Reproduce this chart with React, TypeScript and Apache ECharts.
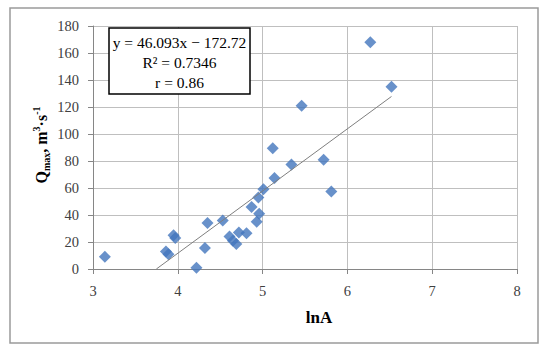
import React, { useEffect, useRef } from 'react';
import * as echarts from 'echarts';

// Data
const lnA = [3.14, 3.86, 3.89, 3.95, 3.97, 4.22, 4.32, 4.35, 4.53, 4.61, 4.65, 4.69, 4.72, 4.81, 4.87, 4.93, 4.96, 4.95, 5.01, 5.14, 5.12, 5.34, 5.46, 5.72, 5.81, 6.27, 6.52];
const qMax = [9, 13, 11, 25, 23, 1, 15.5, 34, 36, 24, 21, 18.5, 27, 26.5, 46, 35, 41, 53, 59, 67.5, 89.5, 77.5, 121, 81, 57.5, 168, 135];

// Linear trend line y = 46.093x − 172.72 (drawn from y = 0 to last point)
const slope = 46.093;
const intercept = -172.72;
const trendX = [3.747, 6.52];
const trendY = trendX.map((x) => slope * x + intercept);

const equationLines = ['y = 46.093x − 172.72', 'R² = 0.7346', 'r = 0.86'];
const xTitle = 'lnA';

const SERIF = 'Liberation Serif';

export default function App() {
  const ref = useRef<HTMLDivElement>(null);

  useEffect(() => {
    if (!ref.current) return;
    const chart = echarts.init(ref.current, null, { renderer: 'svg' });
    const labelStyle = { fontFamily: SERIF, fontSize: 14.5, color: '#404040' };
    chart.setOption({
      animation: false,
      backgroundColor: '#ffffff',
      textStyle: { fontFamily: SERIF },
      grid: { left: 93, right: 33, top: 26, bottom: 86, containLabel: false },
      xAxis: {
        type: 'value',
        min: 3,
        max: 8,
        interval: 1,
        axisLine: { show: true, lineStyle: { color: '#868686', width: 1 } },
        axisTick: { show: true, length: 5, lineStyle: { color: '#868686' } },
        axisLabel: { ...labelStyle, margin: 14 },
        splitLine: { show: true, lineStyle: { color: '#bfbfbf', width: 1 } },
      },
      yAxis: {
        type: 'value',
        min: 0,
        max: 180,
        interval: 20,
        axisLine: { show: true, lineStyle: { color: '#868686', width: 1 } },
        axisTick: { show: true, length: 5, lineStyle: { color: '#868686' } },
        axisLabel: { ...labelStyle, margin: 14 },
        splitLine: { show: true, lineStyle: { color: '#bfbfbf', width: 1 } },
      },
      series: [
        {
          type: 'scatter',
          symbol: 'diamond',
          symbolSize: 12,
          itemStyle: { color: '#4275bd' },
          data: lnA.map((x, i) => [x, qMax[i]]),
          z: 2,
        },
        {
          type: 'line',
          symbol: 'none',
          lineStyle: { color: '#7f7f7f', width: 1 },
          data: trendX.map((x, i) => [x, trendY[i]]),
          z: 3,
        },
      ],
      graphic: [
        {
          type: 'rect',
          shape: { x: 10, y: 8, width: 528, height: 335 },
          style: { fill: 'none', stroke: '#9a9a9a', lineWidth: 1.5 },
          z: 10,
        },
        {
          type: 'rect',
          shape: { x: 109, y: 28, width: 141, height: 66 },
          style: { fill: '#ffffff', stroke: '#000000', lineWidth: 1.5 },
          z: 10,
        },
        ...equationLines.map((t, i) => ({
          type: 'text',
          x: 179.5,
          y: 42 + i * 20,
          style: {
            text: t,
            fontFamily: SERIF,
            fontSize: 15.5,
            fill: '#000000',
            textAlign: 'center',
            textVerticalAlign: 'middle',
          },
          z: 11,
        })),
        {
          type: 'text',
          x: 319,
          y: 317,
          style: {
            text: xTitle,
            fontFamily: SERIF,
            fontSize: 17,
            fontWeight: 'bold',
            fill: '#000000',
            textAlign: 'center',
            textVerticalAlign: 'middle',
          },
          z: 11,
        },
        {
          type: 'text',
          x: 41,
          y: 145,
          rotation: Math.PI / 2,
          style: {
            text: '{b|Q}{sub|max}{b|, m}{sup|3}{b|·s}{sup|-1}',
            textAlign: 'center',
            textVerticalAlign: 'middle',
            rich: {
              b: { fontFamily: SERIF, fontSize: 16, fontWeight: 'bold', fill: '#000', lineHeight: 20, verticalAlign: 'middle' },
              sub: { fontFamily: SERIF, fontSize: 10, fontWeight: 'bold', fill: '#000', lineHeight: 20, verticalAlign: 'bottom' },
              sup: { fontFamily: SERIF, fontSize: 10, fontWeight: 'bold', fill: '#000', lineHeight: 20, verticalAlign: 'top' },
            },
          },
          z: 11,
        },
      ],
    });
    return () => chart.dispose();
  }, []);

  return (
    <div
      ref={ref}
      style={{ position: 'fixed', left: 0, top: 0, width: 550, height: 355 }}
    />
  );
}
